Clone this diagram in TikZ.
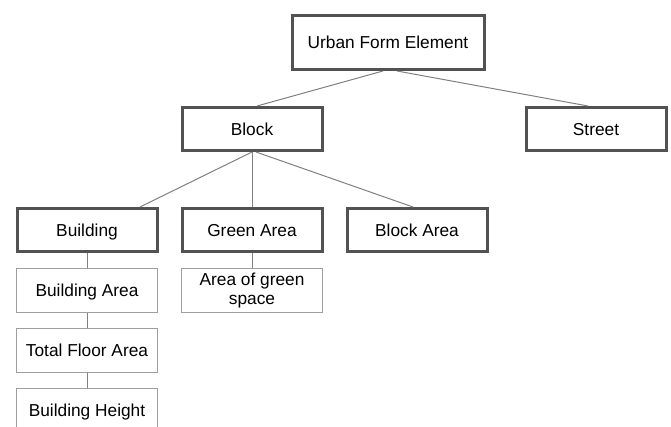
\documentclass[tikz,border=0pt]{standalone}
\usepackage{fontspec}
\setmainfont{Liberation Sans}
\usepackage{tikz}
\usetikzlibrary{positioning}

\begin{document}
\begin{tikzpicture}[
x=1pt,y=1pt,
mainbox/.style={draw=black!68,line width=3pt,align=center,minimum width=140pt,minimum height=43pt,text height=12.4pt,text depth=0pt,inner sep=2pt,font=\fontsize{17.3}{20}\selectfont},
leafbox/.style={draw=black!38,line width=1pt,align=center,minimum width=141pt,minimum height=44pt,inner sep=2pt,font=\fontsize{17.3}{19}\selectfont},
link/.style={draw=black!50,line width=1pt},
node distance=15pt and 22pt]
\clip (0,0) rectangle (671,-427);
\useasboundingbox (0,0) rectangle (671,-427);
\node[mainbox,minimum width=192pt,minimum height=54pt] (ufe) at (388,-42.5) {Urban Form Element};
\node[mainbox] (building) at (87,-230) {Building};
\node[mainbox,right=of building] (green) {Green Area};
\node[mainbox,right=of green] (blockarea) {Block Area};
\node[mainbox,above=55pt of green] (block) {Block};
\node[mainbox,right=201pt of block] (street) {Street};
\node[leafbox,below=of building,text height=12.4pt,text depth=0pt] (bldarea) {Building Area};
\node[leafbox,below=of bldarea,text height=12.4pt,text depth=0pt] (floorarea) {Total Floor Area};
\node[leafbox,below=of floorarea,text height=12.4pt,text depth=0pt] (height) {Building Height};
\node[leafbox,below=of green] (greenspace) {Area of green\\space};
\draw[link] ([xshift=-5pt]ufe.south) -- ([xshift=5pt]block.north);
\draw[link] ([xshift=9pt]ufe.south) -- ([xshift=-8pt]street.north);
\draw[link] (block.south) -- ([xshift=53pt]building.north);
\draw[link] (block.south) -- (green.north);
\draw[link] ([xshift=4pt]block.south) -- ([xshift=-4pt]blockarea.north);
\draw[link] (building) -- (bldarea);
\draw[link] (bldarea) -- (floorarea);
\draw[link] (floorarea) -- (height);
\draw[link] (green) -- (greenspace);
\end{tikzpicture}
\end{document}
